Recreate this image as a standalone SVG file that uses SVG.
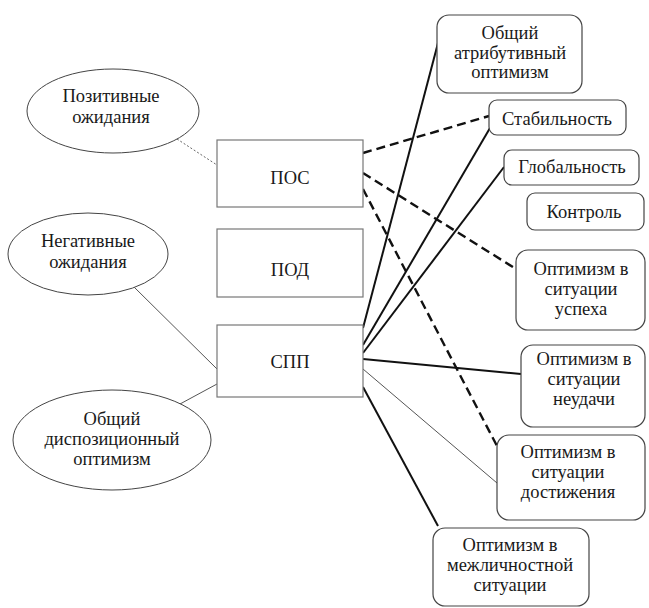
<svg xmlns="http://www.w3.org/2000/svg" width="649" height="608" viewBox="0 0 649 608">
<style>
text{font-family:"Liberation Serif","Times New Roman",serif;font-size:18.5px;fill:#1a1a1a;text-anchor:middle}
.el{fill:#fff;stroke:#444;stroke-width:1}
.sq{fill:#fff;stroke:#777;stroke-width:1.2}
.rb{fill:#fff;stroke:#444;stroke-width:1.2}
.solid{stroke:#111;stroke-width:2;fill:none}
.dash{stroke:#111;stroke-width:2.4;stroke-dasharray:9,5;fill:none}
.thin{stroke:#555;stroke-width:1;fill:none}
.dot{stroke:#666;stroke-width:1;stroke-dasharray:2,2;fill:none}
</style>
<rect width="649" height="608" fill="#fff"/>
<g id="connectors">
<line class="dot" x1="177" y1="139" x2="217" y2="165"/>
<line class="thin" x1="134" y1="287" x2="217" y2="369"/>
<line class="thin" x1="180" y1="404" x2="217" y2="384"/>
<line class="dash" x1="363" y1="153" x2="489" y2="116"/>
<line class="dash" x1="363" y1="173" x2="516" y2="269"/>
<line class="dash" x1="363" y1="189" x2="497" y2="446"/>
<line class="solid" x1="363" y1="328" x2="438" y2="43"/>
<line class="solid" x1="363" y1="345" x2="490" y2="128"/>
<line class="solid" x1="363" y1="353" x2="504" y2="167"/>
<line class="solid" x1="363" y1="359" x2="521" y2="374"/>
<line class="thin" x1="363" y1="369" x2="497" y2="483"/>
<line class="solid" x1="363" y1="387" x2="438" y2="526"/>
</g>
<g id="pos-exp"><ellipse class="el" cx="113" cy="111" rx="86" ry="42"/><text x="111" y="102">Позитивные</text><text x="111" y="123">ожидания</text></g>
<g id="neg-exp"><ellipse class="el" cx="88" cy="254" rx="80" ry="41"/><text x="88" y="247">Негативные</text><text x="88" y="268">ожидания</text></g>
<g id="disp-opt"><ellipse class="el" cx="112" cy="440" rx="99" ry="50"/><text x="112" y="425">Общий</text><text x="112" y="445">диспозиционный</text><text x="112" y="465">оптимизм</text></g>
<g id="pos"><rect class="sq" x="217" y="140" width="146" height="67"/><text x="290" y="184">ПОС</text></g>
<g id="pod"><rect class="sq" x="217" y="229" width="146" height="68"/><text x="290" y="276">ПОД</text></g>
<g id="spp"><rect class="sq" x="217" y="325" width="146" height="72"/><text x="290" y="368">СПП</text></g>
<g id="attr-opt"><rect class="rb" x="437" y="15" width="145" height="78" rx="12"/><text x="510" y="39">Общий</text><text x="510" y="59">атрибутивный</text><text x="510" y="78">оптимизм</text></g>
<g id="stab"><rect class="rb" x="489" y="100" width="137" height="35" rx="8"/><text x="557" y="125">Стабильность</text></g>
<g id="glob"><rect class="rb" x="504" y="150" width="135" height="35" rx="8"/><text x="572" y="173">Глобальность</text></g>
<g id="control"><rect class="rb" x="527" y="193" width="117" height="37" rx="8"/><text x="584" y="218">Контроль</text></g>
<g id="success"><rect class="rb" x="516" y="250" width="129" height="80" rx="12"/><text x="581" y="275">Оптимизм в</text><text x="581" y="295">ситуации</text><text x="581" y="315">успеха</text></g>
<g id="failure"><rect class="rb" x="521" y="345" width="124" height="82" rx="12"/><text x="584" y="365">Оптимизм в</text><text x="584" y="385">ситуации</text><text x="584" y="405">неудачи</text></g>
<g id="achieve"><rect class="rb" x="497" y="435" width="148" height="85" rx="12"/><text x="568" y="458">Оптимизм в</text><text x="568" y="478">ситуации</text><text x="568" y="498">достижения</text></g>
<g id="interpers"><rect class="rb" x="433" y="528" width="156" height="78" rx="12"/><text x="510" y="551">Оптимизм в</text><text x="510" y="571">межличностной</text><text x="510" y="591">ситуации</text></g>
</svg>
